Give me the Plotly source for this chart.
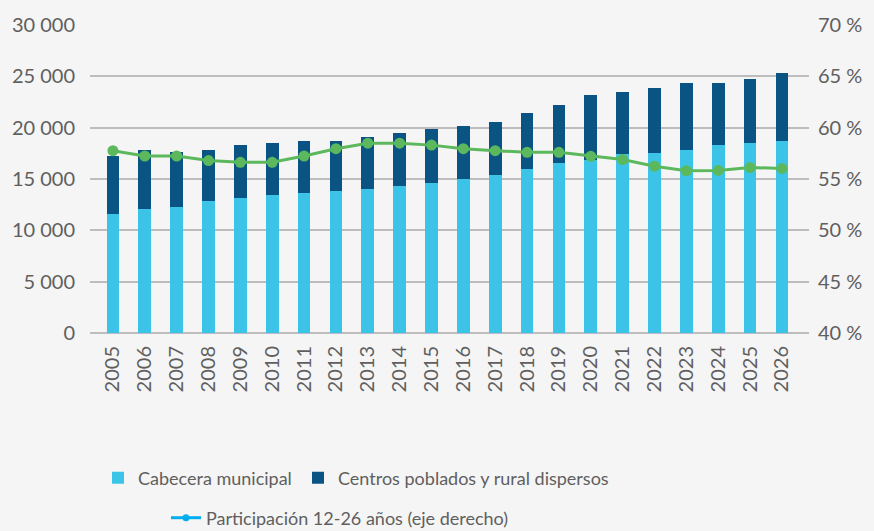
import plotly.graph_objects as go

years = [str(y) for y in range(2005, 2027)]
cabecera = [11635, 12115, 12308, 12885, 13173, 13462, 13654, 13846, 14038, 14327, 14615,
            15000, 15385, 15962, 16538, 16827, 17404, 17500, 17788, 18269, 18462, 18654]
total = [17212, 17788, 17596, 17788, 18269, 18461, 18654, 18654, 19135, 19519, 19904,
         20192, 20577, 21442, 22212, 23173, 23462, 23846, 24327, 24327, 24712, 25288]
rural = [t - c for t, c in zip(total, cabecera)]
participacion = [57.76, 57.24, 57.24, 56.80, 56.63, 56.63, 57.24, 57.95, 58.49, 58.49, 58.30,
                 57.95, 57.76, 57.60, 57.60, 57.21, 56.89, 56.25, 55.80, 55.84, 56.12, 56.03]

FONT = "Lato"
GRAY = "#5f5f5f"
W, H = 874, 531

fig = go.Figure()
fig.add_trace(go.Bar(x=years, y=cabecera, name="Cabecera municipal",
                     marker=dict(color="#3BC4E7", line=dict(width=0)), legend="legend"))
fig.add_trace(go.Bar(x=years, y=rural, name="Centros poblados y rural dispersos",
                     marker=dict(color="#0A5483", line=dict(width=0)), legend="legend2"))
fig.add_trace(go.Scatter(x=years, y=participacion, yaxis="y2", mode="lines+markers",
                         name="Participación 12-26 años (eje derecho)", showlegend=False,
                         line=dict(color="#5CB85C", width=3),
                         marker=dict(color="#5CB85C", size=11)))
# legend entry as drawn in the reference (blue line icon)
fig.add_trace(go.Scatter(x=[None], y=[None], yaxis="y2", mode="lines+markers",
                         name="Participación 12-26 años (eje derecho)",
                         line=dict(color="#00AEEF", width=3),
                         marker=dict(color="#00AEEF", size=7), legend="legend3"))

def leg(xpx, ypx):
    return dict(orientation="h", xref="container", yref="container",
                x=xpx / W, y=1 - ypx / H, xanchor="left", yanchor="middle",
                bgcolor="rgba(0,0,0,0)", font=dict(size=18))

fig.update_layout(
    width=W, height=H,
    paper_bgcolor="#F5F5F5", plot_bgcolor="#F5F5F5",
    margin=dict(l=86, r=61, t=21, b=198),
    barmode="stack", bargap=0.6,
    separators=", ",
    font=dict(family=FONT, color=GRAY, size=18),
    xaxis=dict(type="category", range=[-0.72, 21.85], tickangle=-90,
               showgrid=False, showline=False, ticks="", tickfont=dict(size=20),
               ticklabelstandoff=8),
    yaxis=dict(range=[0, 30000], dtick=5000, tickformat=",d", showgrid=True,
               gridcolor="#BDBDBD", gridwidth=1.5, zeroline=True, zerolinecolor="#BDBDBD",
               zerolinewidth=1.5, ticks="", ticklabelstandoff=14, tickfont=dict(size=20)),
    yaxis2=dict(range=[40, 70], dtick=5, ticksuffix=" %", overlaying="y", side="right",
                showgrid=False, zeroline=False, ticks="", ticklabelstandoff=8,
                tickfont=dict(size=20)),
    legend=leg(98, 478),
    legend2=leg(298, 478),
    legend3=leg(166, 518),
)

fig.write_html("out.html", config={"displayModeBar": False},
               post_script="document.body.style.margin='0';document.body.style.overflow='hidden';")
